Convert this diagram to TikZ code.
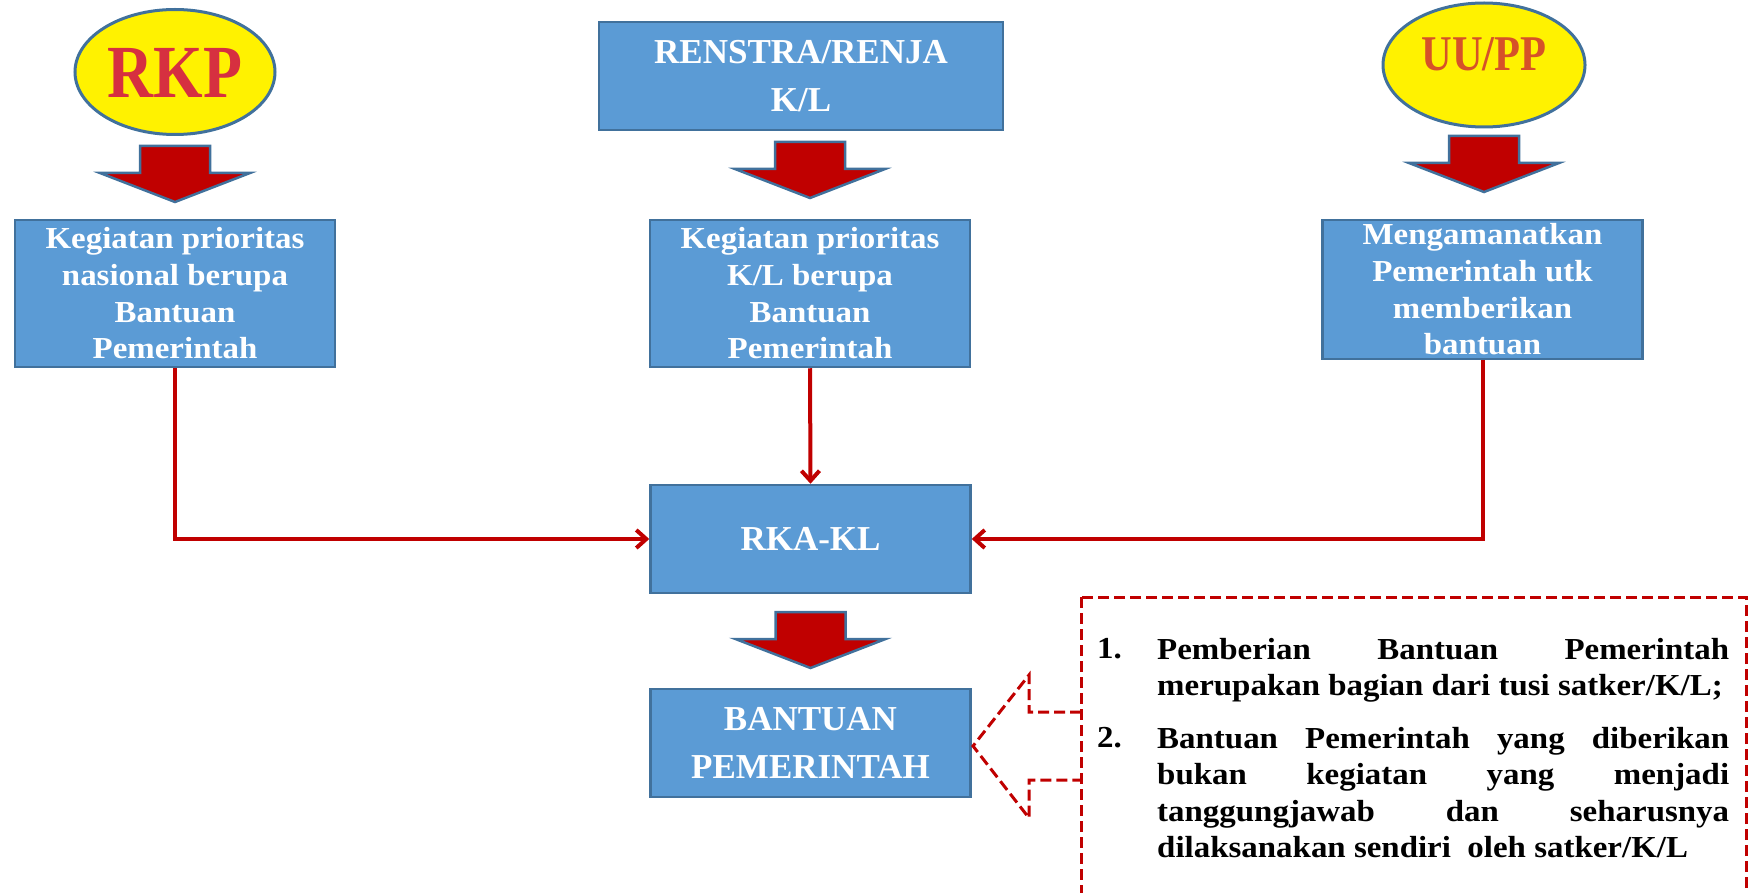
\documentclass[tikz,border=0pt]{standalone}
\usepackage{fontspec}
\newfontfamily\boxfont[FakeStretch=1.08]{Liberation Serif}
\newfontfamily\capsfont{Liberation Serif}
\newfontfamily\logofont[FakeStretch=0.85]{Liberation Serif}
\usetikzlibrary{arrows.meta,shapes.geometric}

\definecolor{boxblue}{RGB}{91,155,213}
\definecolor{edgeblue}{RGB}{65,113,156}
\definecolor{darkred}{RGB}{192,0,0}
\definecolor{rkpred}{RGB}{214,48,64}
\definecolor{uuorange}{RGB}{214,82,40}

\tikzset{
  box/.style={draw=edgeblue, fill=boxblue, line width=2.5pt, text=white,
    align=center, inner sep=0pt, minimum width=320pt},
  smallbox/.style={box, minimum height=147pt,
    font=\boxfont\bfseries\fontsize{30.5}{36.7}\selectfont},
  bigbox/.style={box, minimum height=108pt,
    font=\capsfont\bfseries\fontsize{35}{48}\selectfont},
  source/.style={ellipse, draw=edgeblue, fill=yellow, line width=3pt, inner sep=0pt},
  link/.style={darkred, line width=4pt, -{Straight Barb[length=10pt,width=18pt]}},
  callout/.style={darkred, line width=3pt, dash pattern=on 11pt off 5pt},
  notenum/.style={anchor=base west, inner sep=0pt,
    font=\boxfont\bfseries\fontsize{30.5}{36.5}\selectfont},
  note/.style={anchor=north west, inner sep=0pt, text width=572pt, align=justify,
    font=\boxfont\bfseries\fontsize{30.5}{36.5}\selectfont},
  pics/downarrow/.style={code={
    \draw[edgeblue, fill=darkred, line width=2.5pt]
      (-35,0) -- (35,0) -- (35,27) -- (75,27) -- (0,56) -- (-75,27) -- (-35,27) -- cycle;
  }}
}

\begin{document}
\begin{tikzpicture}[x=1pt,y=-1pt]
  \useasboundingbox (0,0) rectangle (1750,893);

  % sources
  \node[source, minimum width=200pt, minimum height=125pt, text=rkpred,
    font=\logofont\bfseries\fontsize{75}{75}\selectfont,
    text height=52pt, text depth=0pt] (rkp) at (175,72) {RKP};
  \node[bigbox, minimum width=404pt] (renstra) at (801,76) {RENSTRA/RENJA\\K/L};
  \node[source, minimum width=202pt, minimum height=124pt, text=uuorange,
    font=\logofont\bfseries\fontsize{50}{50}\selectfont,
    text height=34pt, text depth=22pt] (uupp) at (1484,65) {UU/PP};

  % block arrows
  \pic at (175,146) {downarrow};
  \pic at (810,142) {downarrow};
  \pic at (1484,136) {downarrow};
  \pic at (810.5,612) {downarrow};

  % activity boxes
  \node[smallbox] (prionas) at (175,293.5) {Kegiatan prioritas\\nasional berupa\\Bantuan\\Pemerintah};
  \node[smallbox] (priokl) at (810,293.5) {Kegiatan prioritas\\K/L berupa\\Bantuan\\Pemerintah};
  \node[smallbox, minimum height=139pt] (amanat) at (1482.5,289.5) {Mengamanatkan\\Pemerintah utk\\memberikan\\bantuan};

  \node[bigbox] (rkakl) at (810.5,539) {RKA-KL};
  \node[bigbox] (bantuan) at (810.5,743) {BANTUAN\\PEMERINTAH};

  % connectors
  \draw[link] (prionas.south) |- (rkakl.west);
  \draw[link] (priokl.south) -- (rkakl.north);
  \draw[link] (amanat.south) |- (rkakl.east);

  % dashed note with callout
  \draw[callout] (1081,597) rectangle (1746,930);
  \draw[callout] (1081,712) -- (1029,712) -- (1029,675) -- (973,746)
    -- (1029,818) -- (1029,780) -- (1081,780);
  \node[notenum] (num1) at (1097,658) {1.};
  \node[note] (item1) at (1157,638) {Pemberian Bantuan Pemerintah\linebreak
    merupakan bagian dari tusi satker/K/L;};
  \node[notenum] (num2) at (1097,747) {2.};
  \node[note] (item2) at (1157,727) {Bantuan Pemerintah yang diberikan\linebreak
    bukan kegiatan yang menjadi\linebreak
    tanggungjawab dan seharusnya\linebreak
    dilaksanakan sendiri\ \ oleh satker/K/L};
\end{tikzpicture}
\end{document}
